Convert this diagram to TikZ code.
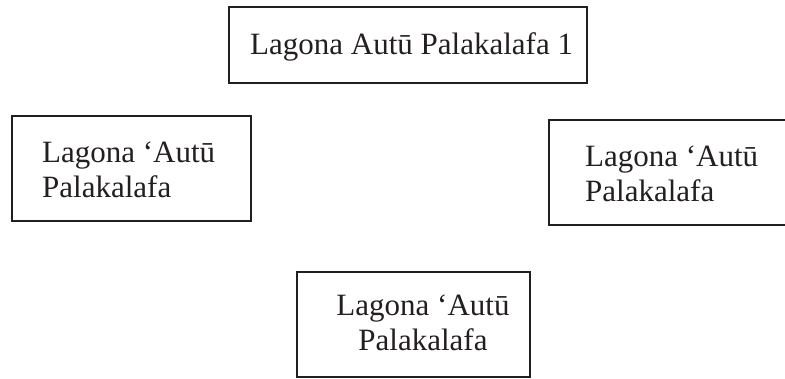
\documentclass[tikz,border=0pt]{standalone}
\usepackage{fontspec}
\setmainfont{Liberation Serif}
\definecolor{ink}{HTML}{231F20}
\begin{document}
\begin{tikzpicture}[x=1pt,y=-1pt,
  boxframe/.style={draw=ink,line width=2.6pt,inner sep=0pt},
  boxtext/.style={text=ink,font=\fontsize{31}{35}\selectfont,inner sep=0pt,anchor=base west,align=left}]
\useasboundingbox (0,0) rectangle (785,379);
\draw[boxframe] (229,7) rectangle (587,83);
\draw[boxframe] (12,116) rectangle (251,221);
\draw[boxframe] (549,120) rectangle (790,225);
\draw[boxframe] (297,272) rectangle (530,377);
\node[boxtext] (t1) at (250,55) {Lagona Autū Palakalafa 1};
\node[boxtext] (t2a) at (42,163) {Lagona ‘Autū};
\node[boxtext] (t2b) at (42,198) {Palakalafa};
\node[boxtext] (t3a) at (585,167) {Lagona ‘Autū};
\node[boxtext] (t3b) at (585,202) {Palakalafa};
\node[boxtext,anchor=base] (t4a) at (423,316) {Lagona ‘Autū};
\node[boxtext,anchor=base] (t4b) at (423,351) {Palakalafa};
\end{tikzpicture}
\end{document}
